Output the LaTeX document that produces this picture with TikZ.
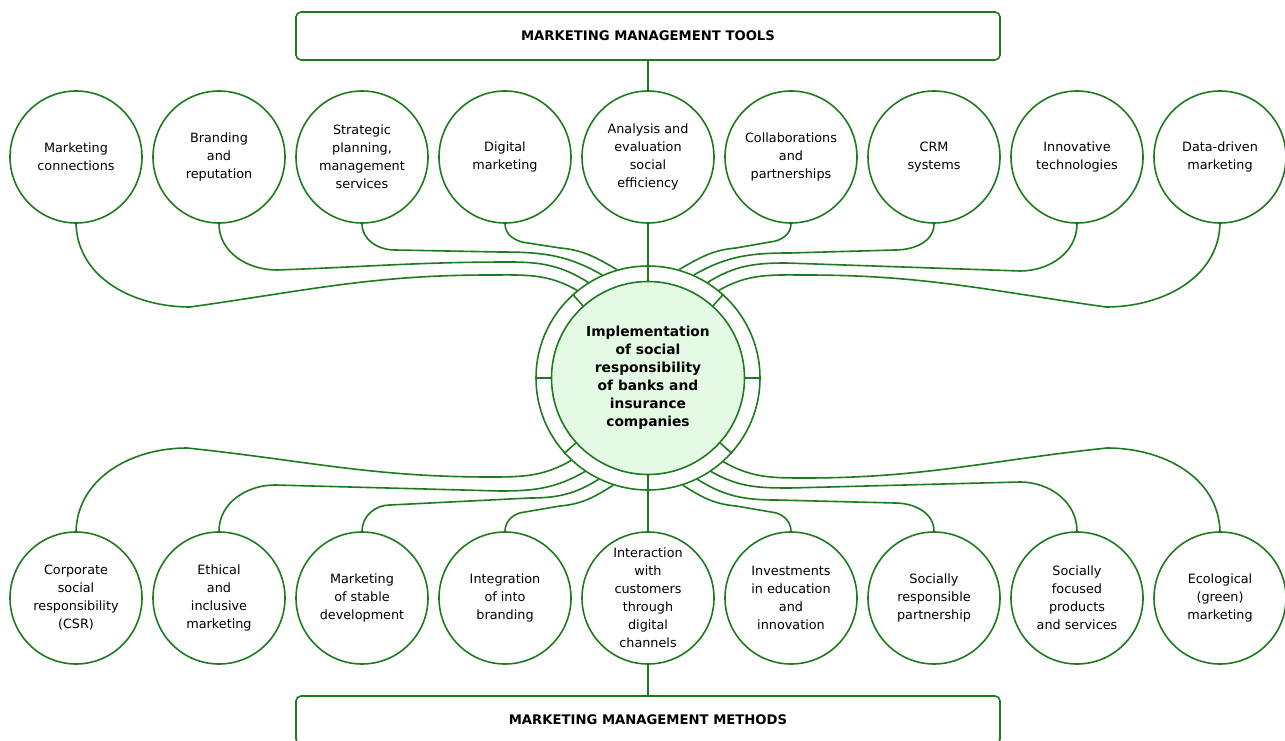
\documentclass[tikz,border=0pt]{standalone}
\usepackage{fontspec}
\setmainfont{DejaVu Sans}
\usetikzlibrary{positioning}
\definecolor{linegreen}{RGB}{30,122,30}
\definecolor{hubgreen}{RGB}{228,250,228}

\tikzset{
  item/.style={circle,draw=linegreen,line width=1.6pt,minimum size=132pt,inner sep=0pt,
    align=center,font=\fontsize{12.8}{18}\selectfont},
  head/.style={rectangle,rounded corners=5pt,draw=linegreen,line width=1.6pt,
    minimum width=704pt,minimum height=48pt,font=\bfseries\fontsize{13.2}{15}\selectfont},
  link/.style={draw=linegreen,line width=1.6pt}
}

\begin{document}
\begin{tikzpicture}[x=1pt,y=1pt]
\clip (0,0) rectangle (1285,740);

\node[head] (tools) at (648,704) {MARKETING MANAGEMENT TOOLS};
\node[head] (methods) at (648,20) {MARKETING MANAGEMENT METHODS};

\node[circle,draw=linegreen,line width=1.6pt,minimum size=224pt,inner sep=0pt] (ring) at (648,362) {};
\node[circle,draw=linegreen,fill=hubgreen,line width=1.6pt,minimum size=193pt,inner sep=0pt,
  align=center,font=\bfseries\fontsize{13.8}{18}\selectfont] (hub) at (648,362)
  {Implementation\\of social\\responsibility\\of banks and\\insurance\\companies};

\node[item] (mc) at (76,583) {Marketing\\connections};
\node[item] (br) at (219,583) {Branding\\and\\reputation};
\node[item] (sp) at (362,583) {Strategic\\planning,\\management\\services};
\node[item] (dm) at (505,583) {Digital\\marketing};
\node[item] (an) at (648,583) {Analysis and\\evaluation\\social\\efficiency};
\node[item] (co) at (791,583) {Collaborations\\and\\partnerships};
\node[item] (crm) at (934,583) {CRM\\systems};
\node[item] (it) at (1077,583) {Innovative\\technologies};
\node[item] (dd) at (1220,583) {Data-driven\\marketing};

\node[item] (csr) at (76,142) {Corporate\\social\\responsibility\\(CSR)};
\node[item] (eth) at (219,142) {Ethical\\and\\inclusive\\marketing};
\node[item] (msd) at (362,142) {Marketing\\of stable\\development};
\node[item] (ib) at (505,142) {Integration\\of into\\branding};
\node[item] (ic) at (648,142) {Interaction\\with\\customers\\through\\digital\\channels};
\node[item] (inv) at (791,142) {Investments\\in education\\and\\innovation};
\node[item] (srp) at (934,142) {Socially\\responsible\\partnership};
\node[item] (sf) at (1077,142) {Socially\\focused\\products\\and services};
\node[item] (eco) at (1220,142) {Ecological\\(green)\\marketing};

\draw[link] (tools) -- (an);
\draw[link] (an) -- (ring.90) -- (hub.90);
\draw[link] (ic) -- (ring.270) -- (hub.270);
\draw[link] (ic) -- (methods);
\draw[link] (hub.0) -- (ring.0);
\draw[link] (hub.180) -- (ring.180);
\draw[link] (hub.132) -- (ring.132);
\draw[link] (hub.48) -- (ring.48);
\draw[link] (hub.222) -- (ring.222);
\draw[link] (hub.318) -- (ring.318);

\draw[link] (mc.south) to[out=-88,in=180] (190,433) to[out=8,in=180] (490,465) to[out=0,in=150] (ring.129);
\draw[link] (br.south) to[out=-90,in=180] (277,470) to[out=2,in=180] (510,478) to[out=0,in=148] (ring.122);
\draw[link] (sp.south) to[out=-90,in=180] (395,490) -- (500,488) to[out=0,in=150] (ring.114);
\draw[link] (dm.south) to[out=-90,in=175] (528,497) -- (560,492) to[out=-5,in=150] (ring.106);
\draw[link] (co.south) to[out=-90,in=5] (770,498) -- (736,492) to[out=185,in=30] (ring.74);
\draw[link] (crm.south) to[out=-90,in=0] (895,490) -- (790,487) to[out=180,in=30] (ring.66);
\draw[link] (it.south) to[out=-90,in=0] (1020,469) -- (786,477) to[out=180,in=32] (ring.58);
\draw[link] (dd.south) to[out=-92,in=0] (1106,433) to[out=172,in=0] (806,465) to[out=180,in=30] (ring.51);

\draw[link] (csr.north) to[out=88,in=180] (187,292) to[out=-6,in=180] (490,263) to[out=0,in=210] (ring.227);
\draw[link] (eth.north) to[out=90,in=180] (275,255) -- (500,249) to[out=0,in=210] (ring.236);
\draw[link] (msd.north) to[out=90,in=180] (390,235) -- (530,242) to[out=0,in=212] (ring.244);
\draw[link] (ib.north) to[out=90,in=185] (525,228) -- (560,234) to[out=5,in=212] (ring.252);
\draw[link] (inv.north) to[out=90,in=-5] (771,228) -- (736,234) to[out=175,in=-32] (ring.288);
\draw[link] (srp.north) to[out=90,in=0] (895,237) -- (776,240) to[out=180,in=-32] (ring.296);
\draw[link] (sf.north) to[out=90,in=0] (1020,258) -- (790,252) to[out=180,in=-30] (ring.304);
\draw[link] (eco.north) to[out=92,in=0] (1107,292) to[out=186,in=0] (806,262) to[out=180,in=-30] (ring.312);
\end{tikzpicture}
\end{document}
